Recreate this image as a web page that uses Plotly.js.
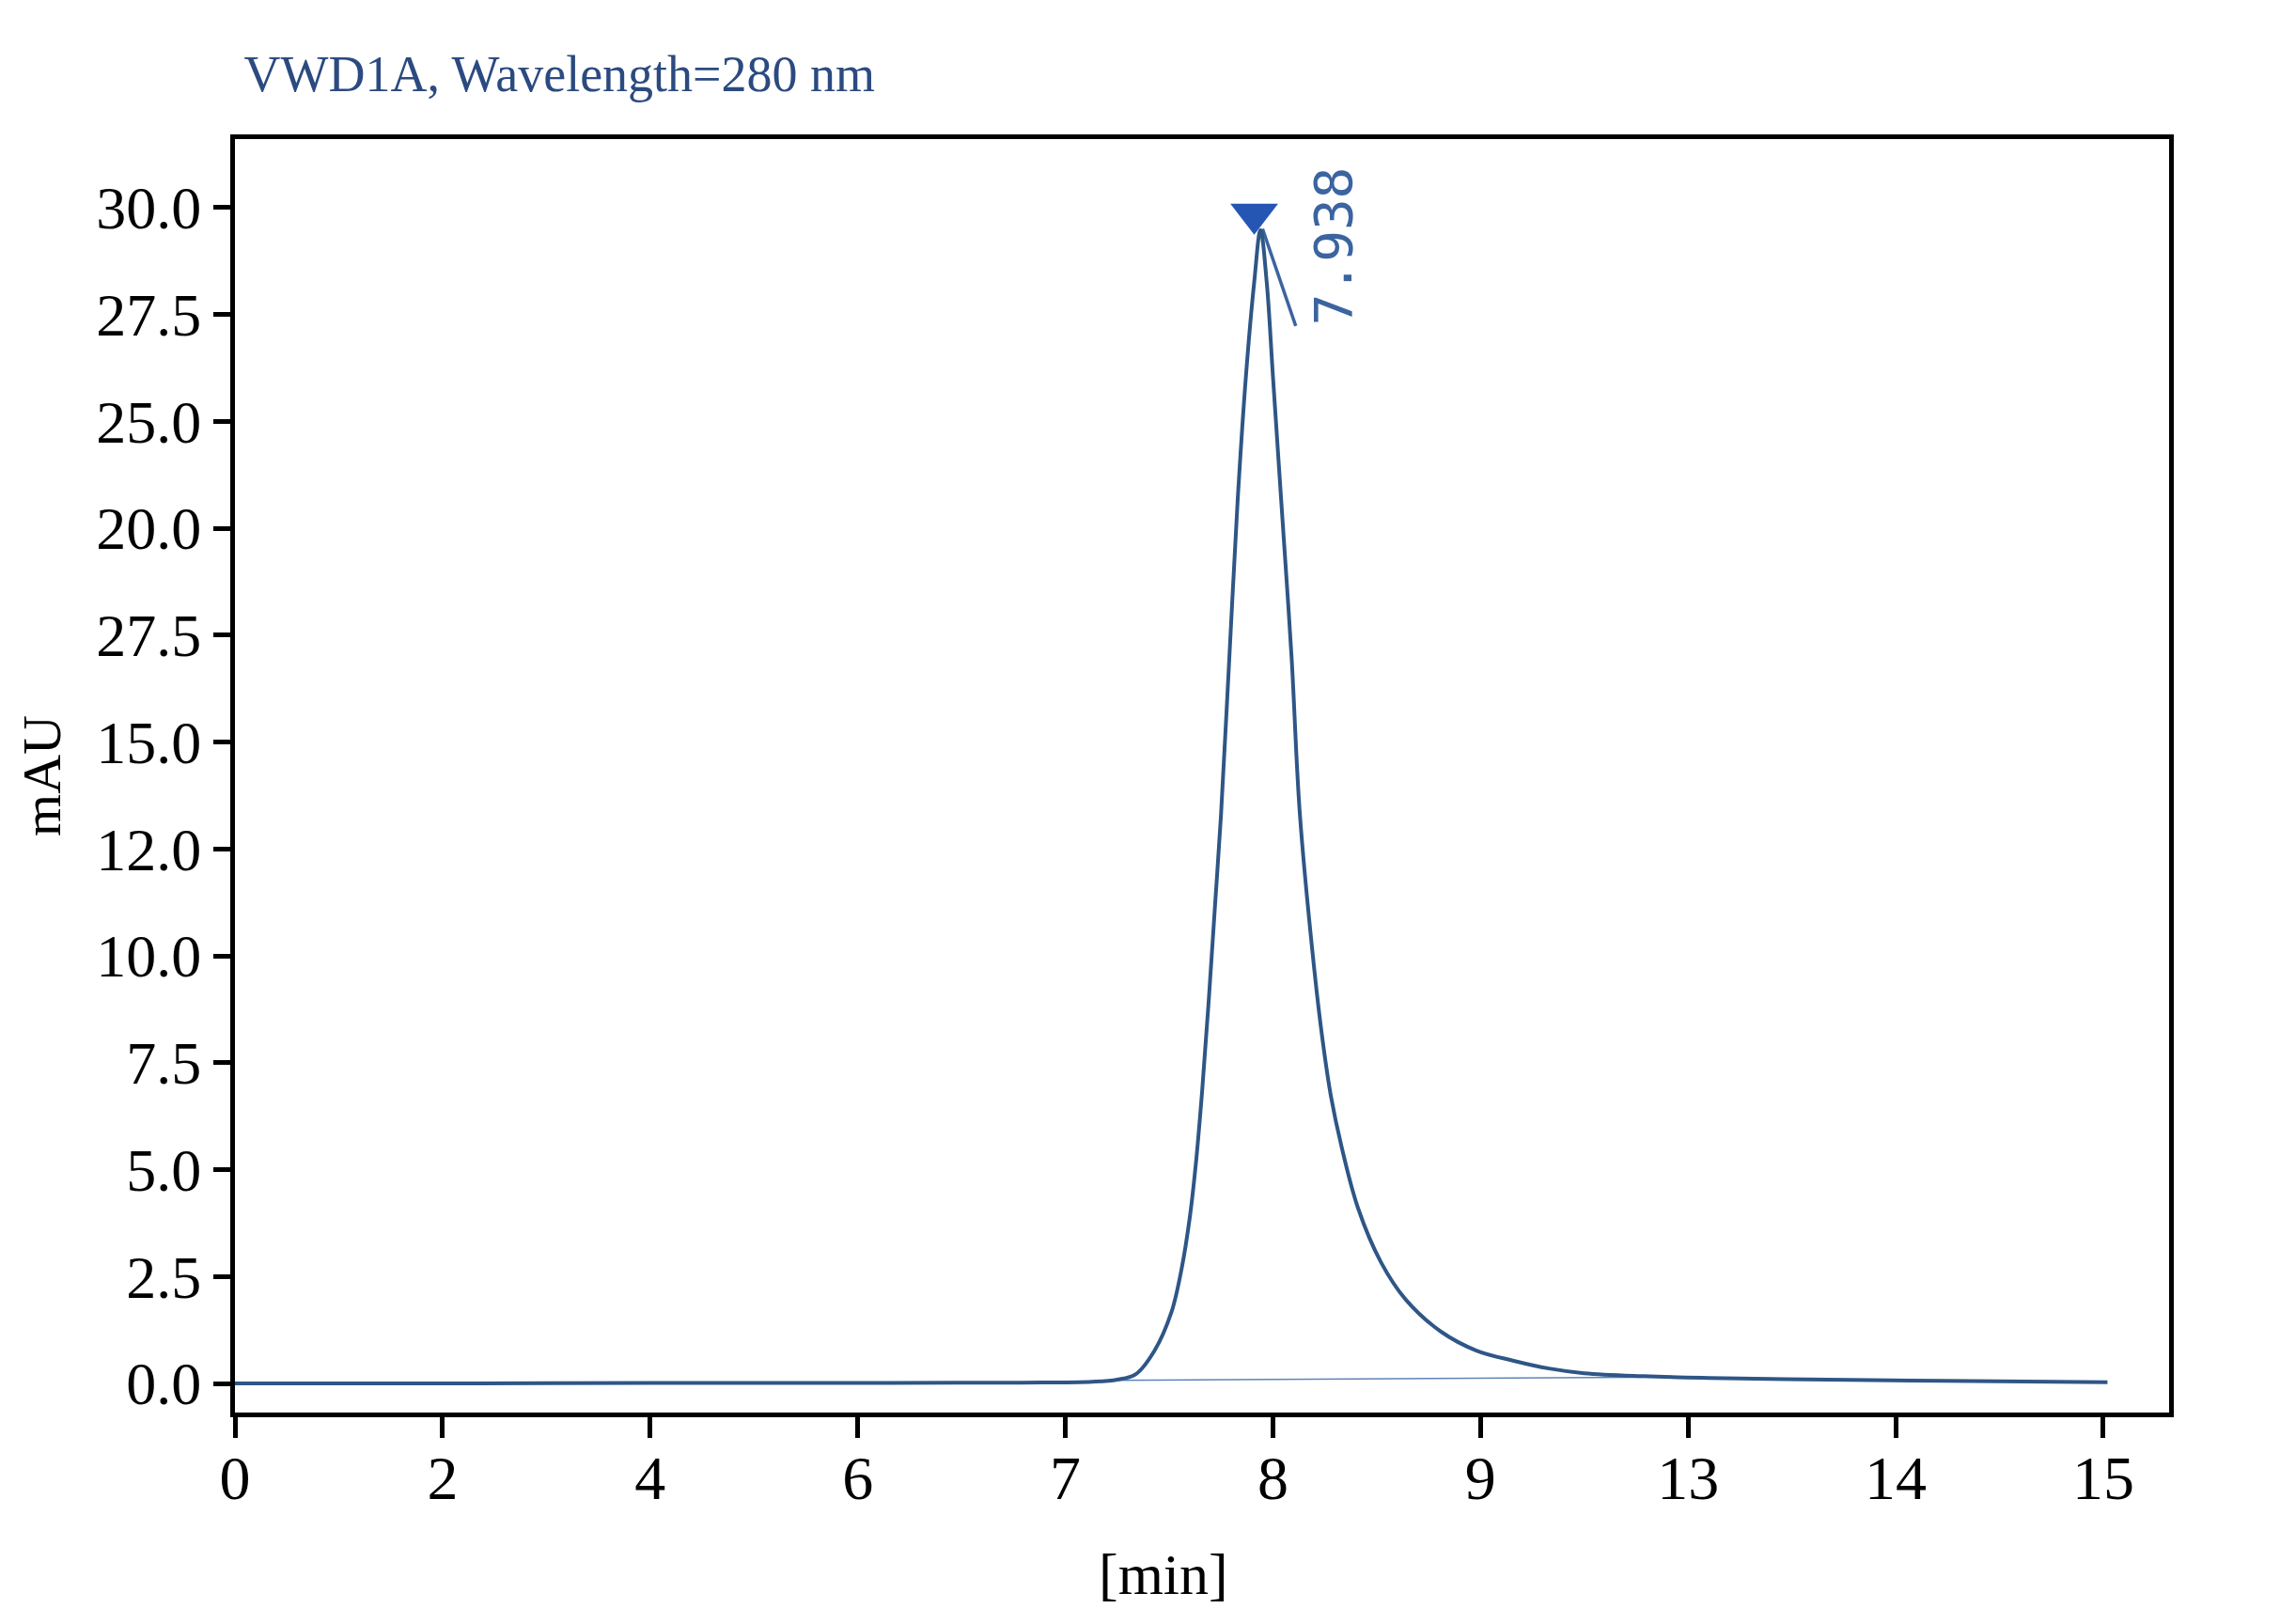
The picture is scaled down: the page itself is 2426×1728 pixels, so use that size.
<!DOCTYPE html>
<html>
<head>
<meta charset="utf-8">
<script src="https://cdn.plot.ly/plotly-3.0.1.min.js"></script>
<style>
  body { margin: 0; background: #ffffff; }
  #myDiv { width: 2426px; height: 1728px; }
</style>
</head>
<body>
<div id="myDiv"></div>
<script>
// axis positions (ticks are evenly spaced, labels as printed on the chart)
var xTickVals = [0, 1, 2, 3, 4, 5, 6, 7, 8, 9];
var xTickLabels = ['0', '2', '4', '6', '7', '8', '9', '13', '14', '15'];
var yTickVals = [0, 2.5, 5, 7.5, 10, 12.5, 15, 17.5, 20, 22.5, 25, 27.5];
var yTickLabels = ['0.0', '2.5', '5.0', '7.5', '10.0', '12.0', '15.0', '27.5', '20.0', '25.0', '27.5', '30.0'];

// chromatogram signal (x in axis positions, y in mAU)
var signalX = [0, 1, 2, 3, 3.78, 4.13, 4.25, 4.34, 4.43, 4.51, 4.56, 4.60, 4.63, 4.66, 4.69, 4.72, 4.75, 4.79, 4.83, 4.87, 4.91, 4.94,
               4.97, 5.00, 5.04, 5.09, 5.13, 5.20, 5.24, 5.28, 5.33, 5.41, 5.52, 5.64, 5.81, 5.98, 6.16, 6.33, 6.50, 6.79, 7.10, 7.47, 8.23, 9.02];
var signalY = [0.0, 0.0, 0.01, 0.01, 0.02, 0.04, 0.09, 0.22, 0.77, 1.65, 2.68, 3.90, 5.20, 6.90, 8.90, 11.10, 13.30, 16.97, 20.64, 23.56, 25.76, 26.97,
               25.76, 23.56, 20.64, 16.97, 13.30, 9.65, 8.00, 6.70, 5.55, 4.10, 2.84, 1.96, 1.21, 0.77, 0.53, 0.35, 0.24, 0.17, 0.13, 0.10, 0.06, 0.03];

// integration baseline under the peak
var baseX = [4.20, 6.93];
var baseY = [0.07, 0.15];

// peak marker and its label
var peakX = [4.91];
var peakY = [27.35];
var peakTickX = [4.95, 5.11];
var peakTickY = [27.0, 24.73];
var peakLabel = '7.938';
var peakLabelX = 5.29;
var peakLabelY = 26.6;

var marker = {
  x: peakX, y: peakY,
  type: 'scatter', mode: 'markers',
  marker: { symbol: 'triangle-down', size: 44, color: '#2556b4' },
  hoverinfo: 'skip'
};

var tick = {
  x: peakTickX, y: peakTickY,
  type: 'scatter', mode: 'lines',
  line: { color: '#3b64a0', width: 3.5 },
  hoverinfo: 'skip'
};

var baseline = {
  x: baseX, y: baseY,
  type: 'scatter', mode: 'lines',
  line: { color: '#5f83b8', width: 1.5 },
  hoverinfo: 'skip'
};

var signal = {
  x: signalX, y: signalY,
  type: 'scatter', mode: 'lines',
  line: { color: '#2e5686', width: 4, shape: 'spline', smoothing: 1 },
  hoverinfo: 'skip'
};

var data = [marker, tick, baseline, signal];

var serif = 'Liberation Serif, Times New Roman, serif';

var layout = {
  width: 2426,
  height: 1728,
  showlegend: false,
  plot_bgcolor: '#ffffff',
  paper_bgcolor: '#ffffff',
  margin: { l: 250, r: 118, t: 148, b: 225 },
  title: {
    text: 'VWD1A, Wavelength=280 nm',
    font: { family: serif, size: 54, color: '#2b4a80' },
    xref: 'container', x: 0.107, xanchor: 'left',
    yref: 'container', y: 0.955, yanchor: 'middle'
  },
  xaxis: {
    range: [0, 9.317],
    tickvals: xTickVals,
    ticktext: xTickLabels,
    showgrid: false,
    zeroline: false,
    showline: true,
    linecolor: '#000000',
    linewidth: 5,
    mirror: true,
    ticks: 'outside',
    ticklen: 22,
    tickwidth: 5,
    tickcolor: '#000000',
    ticklabelstandoff: -14,
    tickfont: { family: serif, size: 66, color: '#000000' },
    title: { text: '' }
  },
  yaxis: {
    range: [-0.68, 29.10],
    tickvals: yTickVals,
    ticktext: yTickLabels,
    showgrid: false,
    zeroline: false,
    showline: true,
    linecolor: '#000000',
    linewidth: 5,
    mirror: true,
    ticks: 'outside',
    ticklen: 18,
    tickwidth: 5,
    tickcolor: '#000000',
    tickfont: { family: serif, size: 64, color: '#000000' },
    title: {
      text: 'mAU',
      font: { family: serif, size: 58, color: '#000000' },
      standoff: 20
    }
  },
  annotations: [{
    x: peakLabelX, y: peakLabelY,
    xref: 'x', yref: 'y',
    text: peakLabel,
    showarrow: false,
    textangle: -90,
    font: { family: 'DejaVu Sans Mono, monospace', size: 56, color: '#3b64a0' }
  }, {
    x: (1238 - 250) / 2058, y: (1503 - 1675) / 1355,
    xref: 'paper', yref: 'paper',
    xanchor: 'center', yanchor: 'middle',
    text: '[min]',
    showarrow: false,
    font: { family: serif, size: 62, color: '#000000' }
  }]
};

var config = {
  displayModeBar: false,
  staticPlot: true
};

Plotly.newPlot('myDiv', data, layout, config);
</script>
</body>
</html>
